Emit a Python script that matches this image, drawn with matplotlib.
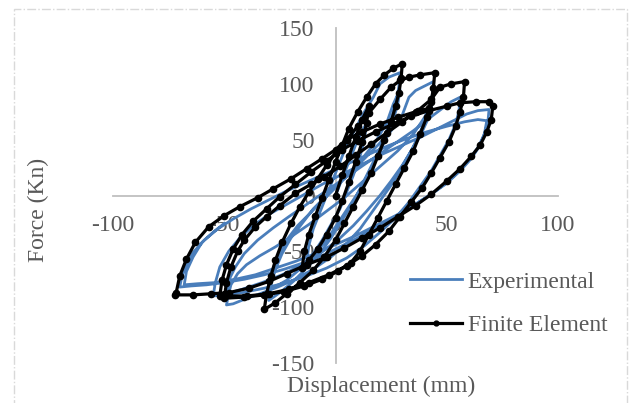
import matplotlib
matplotlib.use("Agg")
import matplotlib.pyplot as plt
from matplotlib.patches import Rectangle

# Experimental hysteresis (displacement mm, force kN)
exp_disp = [0, 3, 6, 9, 12, 14, 13, 11, 8, 5, 2, -2, -6, -10, -13,
            -12, -10, -7, -4, -1, 2, 5, 9, 13, 17, 20, 24, 29,
            28.5, 27.5, 26, 23, 20, 16, 12, 8, 3, -2, -7, -13, -19, -25, -30,
            -29, -27, -24, -20, -15, -10, -5, 0, 6, 12, 18, 23, 26, 29,
            28, 26, 23, 19, 15, 11, 6, 1, -4, -10, -16, -22, -30,
            -29, -26, -22, -17, -11, -5, 1, 7, 13, 19, 25, 30, 33, 36, 40, 44,
            43.5, 42, 40, 37, 34, 30, 26, 21, 16, 11, 5, -2, -10, -18, -26, -34, -41, -46, -49,
            -48, -47, -44, -40, -34, -27, -20, -12, -4, 4, 12, 20, 28, 35, 40, 43, 44,
            43, 41, 38, 34, 30, 25, 20, 14, 8, 1, -7, -15, -24, -33, -42, -49,
            -48, -45, -41, -35, -28, -21, -13, -5, 3, 11, 19, 27, 35, 42, 48, 52, 56,
            55.5, 54, 51, 47, 43, 38, 33, 27, 20, 13, 5, -4, -13, -22, -32, -42, -50, -55,
            -54, -52, -48, -43, -37, -30, -22, -14, -6, 3, 12, 21, 30, 39, 47, 54, 59, 64, 69,
            68.5, 67, 64, 60, 55, 49, 42, 35, 27, 19, 11, 3, -5, -14, -23, -32, -41, -50, -58, -65, -70,
            -69, -67, -64, -59, -53, -46, -38, -30, -22, -13, -4, 5, 14, 23, 32, 41, 50, 58, 64, 68,
            67, 65, 61, 56, 50, 43, 35, 27, 18, 9, 0, -9, -18, -27, -36, -45, -54, -62, -68,
            -67, -64, -60, -55, -50]
exp_force = [0, 15, 30, 45, 58, 65, 50, 35, 18, 3, -12, -26, -40, -52, -60,
             -45, -30, -15, 0, 15, 30, 45, 60, 75, 88, 100, 106, 110,
             98, 86, 74, 58, 42, 26, 10, -6, -22, -38, -52, -65, -77, -87, -94,
             -80, -66, -52, -38, -25, -12, -2, 8, 20, 33, 48, 65, 82, 95,
             82, 68, 52, 36, 20, 5, -10, -25, -40, -54, -66, -76, -85,
             -70, -55, -40, -27, -15, -3, 9, 21, 33, 45, 58, 72, 88, 94, 98, 102,
             90, 78, 66, 52, 40, 26, 12, -2, -16, -30, -43, -55, -66, -75, -82, -88, -93, -97, -98,
             -88, -80, -70, -62, -54, -46, -37, -26, -14, -2, 12, 26, 40, 55, 70, 82, 90,
             78, 66, 53, 40, 27, 13, 0, -14, -27, -40, -52, -62, -71, -78, -84, -88,
             -76, -64, -52, -40, -29, -19, -8, 3, 14, 25, 36, 47, 58, 69, 78, 84, 88,
             76, 64, 50, 36, 22, 8, -6, -20, -33, -45, -56, -65, -72, -78, -83, -87, -89, -90,
             -78, -64, -50, -38, -27, -17, -8, 1, 10, 19, 28, 37, 45, 53, 61, 68, 73, 76, 77,
             66, 55, 43, 32, 21, 10, 0, -9, -19, -28, -37, -45, -53, -60, -66, -71, -75, -78, -80, -81, -82,
             -72, -62, -51, -40, -30, -21, -12, -4, 4, 12, 20, 28, 36, 44, 51, 57, 62, 66, 68, 67,
             56, 45, 33, 22, 11, 1, -9, -18, -27, -36, -44, -52, -59, -65, -71, -75, -78, -79, -80,
             -68, -55, -42, -33, -25]

# Finite element hysteresis
fe_disp = [0, 3, 6, 9, 12, 15,
           14, 12, 9, 6, 3, 0, -4, -8, -12, -15,
           -14, -12, -9, -6, -3, 0, 3, 6, 10, 14, 18, 22, 26, 30,
           29.5, 28.5, 27, 25, 22, 19, 16, 12, 8, 4, 0, -5, -10, -16, -22, -27, -32,
           -31, -29, -27, -24, -20, -16, -12, -8, -4, 0, 5, 10, 15, 20, 25, 29, 33, 38, 44.6,
           44, 43, 41, 38, 35, 31, 27, 23, 19, 15, 11, 7, 1, -6, -14, -23, -32, -41, -50,
           -49, -47, -44, -41, -36, -31, -25, -18, -11, -5, 2, 9, 16, 23, 30, 37, 43, 47, 52, 58,
           57.5, 56, 54, 51, 47, 43, 39, 34, 29, 24, 18, 12, 5, -3, -12, -21, -30, -40, -52,
           -51, -49, -46, -42, -37, -31, -25, -18, -11, -4, 3, 10, 18, 26, 34, 42, 50, 56, 63, 69, 70.7,
           70, 68, 65, 61, 56, 50, 43, 36, 28, 20, 12, 4, -4, -13, -22, -30, -39, -48, -56, -64, -72,
           -71.6, -70, -67, -63, -57, -50, -43, -35, -28, -20, -13, -6, 0, 5, 12, 20, 28, 36, 42]
fe_force = [0, 18, 35, 52, 68, 80,
            65, 48, 30, 12, -5, -20, -35, -48, -58, -65,
            -50, -35, -18, -2, 14, 30, 45, 60, 75, 88, 100, 108, 114, 118,
            105, 92, 80, 66, 50, 35, 20, 5, -10, -25, -40, -55, -67, -78, -88, -96, -102,
            -88, -72, -58, -42, -25, -10, 3, 15, 27, 38, 50, 62, 74, 86, 97, 103, 106, 108, 110,
            96, 84, 70, 55, 40, 25, 10, -5, -20, -35, -50, -60, -68, -75, -81, -86, -89, -91, -92,
            -78, -64, -50, -40, -28, -19, -9, 2, 10, 17, 26, 36, 46, 56, 66, 76, 86, 97, 100, 102,
            88, 75, 62, 48, 34, 20, 7, -6, -19, -32, -44, -54, -63, -71, -78, -84, -88, -90, -90,
            -76, -62, -48, -35, -23, -12, -1, 10, 21, 31, 41, 49, 57, 64, 71, 76, 80, 83, 84, 84, 80,
            68, 57, 45, 35, 24, 13, 1, -9, -19, -29, -38, -47, -55, -62, -70, -77, -83, -87, -88, -89, -89,
            -87, -72, -57, -42, -28, -18, -10, -2, 6, 15, 24, 33, 41, 50, 57, 64, 70, 75, 78]

x_ticks = [-100, -50, 0, 50, 100]
y_ticks = [-150, -100, -50, 0, 50, 100, 150]

plt.rcParams["font.family"] = ["Liberation Serif", "DejaVu Serif"]
plt.rcParams["axes.unicode_minus"] = False
text_color = "#595959"

fig = plt.figure(figsize=(6.3, 4.03), dpi=100)
ax = fig.add_axes([113 / 630, 40 / 403, 445 / 630, 335 / 403])

ax.plot(exp_disp, exp_force, color="#4a7ebb", lw=2, label="Experimental", zorder=2)
ax.plot(fe_disp, fe_force, color="black", lw=2.3, marker="o", markersize=4.5,
        label="Finite Element", zorder=3)

ax.set_xlim(-100, 100)
ax.set_ylim(-150, 150)
ax.set_xticks(x_ticks)
ax.set_yticks(y_ticks)
ax.spines["left"].set_position(("data", 0))
ax.spines["bottom"].set_position(("data", 0))
ax.spines["top"].set_visible(False)
ax.spines["right"].set_visible(False)
for s in ["left", "bottom"]:
    ax.spines[s].set_color("#bfbfbf")
    ax.spines[s].set_linewidth(1.3)
    ax.spines[s].set_zorder(1)
ax.tick_params(axis="both", length=0, labelsize=17, labelcolor=text_color)
ax.tick_params(axis="x", pad=14)
ax.tick_params(axis="y", pad=15)
ax.patch.set_alpha(0)

fig.text(381 / 630, 1 - 386 / 403, "Displacement (mm)", fontsize=17,
         color=text_color, ha="center", va="center")
fig.text(38 / 630, 1 - 210 / 403, "Force (Kn)", fontsize=17, color=text_color,
         ha="center", va="center", rotation=90)

leg = fig.legend(loc="upper left", bbox_to_anchor=(410 / 630, 1 - 271 / 403), frameon=False,
                 fontsize=17, labelcolor=text_color, handlelength=2.2, handletextpad=0.25,
                 borderpad=0, borderaxespad=0, labelspacing=0.95, numpoints=1)
leg.legend_handles[1].set_markersize(3.5)

fig.patches.append(Rectangle((14 / 630, -0.1), 613 / 630, 1.1 - 9 / 403,
                             transform=fig.transFigure, fill=False, ec="#d9d9d9",
                             lw=1, ls="-.", zorder=0))

fig.savefig("out.png", dpi=100)
